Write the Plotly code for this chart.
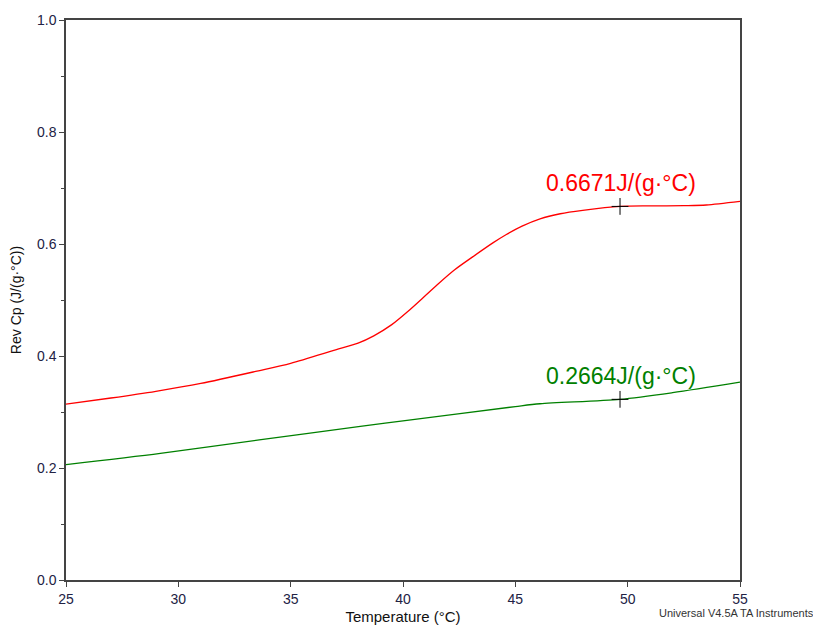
import plotly.graph_objects as go

# Reversing heat capacity traces (temperature in °C, Cp in J/(g·°C))
red_temp = [25.0, 27.0, 29.0, 31.0, 33.5, 35.0, 37.0, 38.0, 38.7, 39.5, 40.2, 41.0, 41.6,
            42.3, 43.1, 44.0, 44.6, 45.3, 46.1, 47.0, 48.0, 49.66, 51.0, 52.5, 53.5, 55.0]
red_cp = [0.314, 0.325, 0.337, 0.351, 0.373, 0.387, 0.411, 0.423, 0.436, 0.456, 0.479,
          0.508, 0.530, 0.554, 0.577, 0.602, 0.617, 0.632, 0.645, 0.654, 0.660, 0.6671,
          0.668, 0.6685, 0.6696, 0.676]

green_temp = [25.0, 29.2, 33.6, 38.1, 40.0, 45.0, 46.1, 49.66, 52.0, 55.0]
green_cp = [0.150, 0.170, 0.194, 0.218, 0.228, 0.2535, 0.2585, 0.2664, 0.2783, 0.297]
green_offset = 0.0562  # vertical display offset of the green trace

# Cursor read-outs
cursor_temp = [49.66, 49.66]
cursor_cp = [0.6671, 0.2664]
cursor_offsets = [0.0, green_offset]
cursor_colors = ["#ff0000", "#008000"]

y_ticks = [0.0, 0.2, 0.4, 0.6, 0.8, 1.0]
y_tick_text = ["0.0", "0.2", "0.4", "0.6", "0.8", "1.0"]
x_ticks = [25, 30, 35, 40, 45, 50, 55]

FONT = "Arial, Liberation Sans"

fig = go.Figure()
fig.add_trace(go.Scatter(x=red_temp, y=red_cp, mode="lines",
                         line=dict(color="#ff0000", width=1.3, shape="spline", smoothing=0.8),
                         hoverinfo="skip"))
fig.add_trace(go.Scatter(x=green_temp, y=[v + green_offset for v in green_cp], mode="lines",
                         line=dict(color="#008000", width=1.3, shape="spline", smoothing=0.8),
                         hoverinfo="skip"))
fig.add_trace(go.Scatter(x=cursor_temp,
                         y=[c + o for c, o in zip(cursor_cp, cursor_offsets)],
                         mode="markers",
                         marker=dict(symbol="cross-thin", size=12,
                                     line=dict(color="#000000", width=1)),
                         hoverinfo="skip"))

for t, c, o, col in zip(cursor_temp, cursor_cp, cursor_offsets, cursor_colors):
    fig.add_annotation(x=t, y=c + o, text=f"{c:.4f}J/(g·°C)", showarrow=False,
                       xanchor="center", yanchor="bottom", yshift=8, xshift=1,
                       font=dict(family=FONT, size=23, color=col))

fig.add_annotation(xref="paper", yref="paper", x=1.0 + 76 / 674, y=-33 / 560,
                   text="Universal V4.5A TA Instruments", showarrow=False,
                   xanchor="right", yanchor="middle",
                   font=dict(family=FONT, size=11, color="#333333"))

axis_common = dict(showgrid=False, zeroline=False, showline=True, linecolor="#444444",
                   linewidth=1.5, mirror=True, ticks="outside", ticklen=5,
                   tickcolor="#444444", tickwidth=1, automargin=False,
                   tickfont=dict(family=FONT, size=14, color="#222244"))

fig.update_xaxes(range=[25, 55], tickvals=x_ticks,
                 title=dict(text="Temperature (°C)", standoff=6,
                            font=dict(family=FONT, size=15, color="#111111")),
                 **axis_common)
fig.update_yaxes(range=[0, 1.0], tickvals=y_ticks, ticktext=y_tick_text,
                 minor=dict(dtick=0.1, tick0=0, ticks="outside", ticklen=3,
                            tickcolor="#444444", tickwidth=1, showgrid=False),
                 title=dict(text="Rev Cp (J/(g·°C))", standoff=12,
                            font=dict(family=FONT, size=14, color="#111111")),
                 **axis_common)

fig.update_layout(width=813, height=626, showlegend=False,
                  paper_bgcolor="white", plot_bgcolor="white",
                  margin=dict(l=66, r=73, t=20, b=46))

fig.write_html("out.html")
